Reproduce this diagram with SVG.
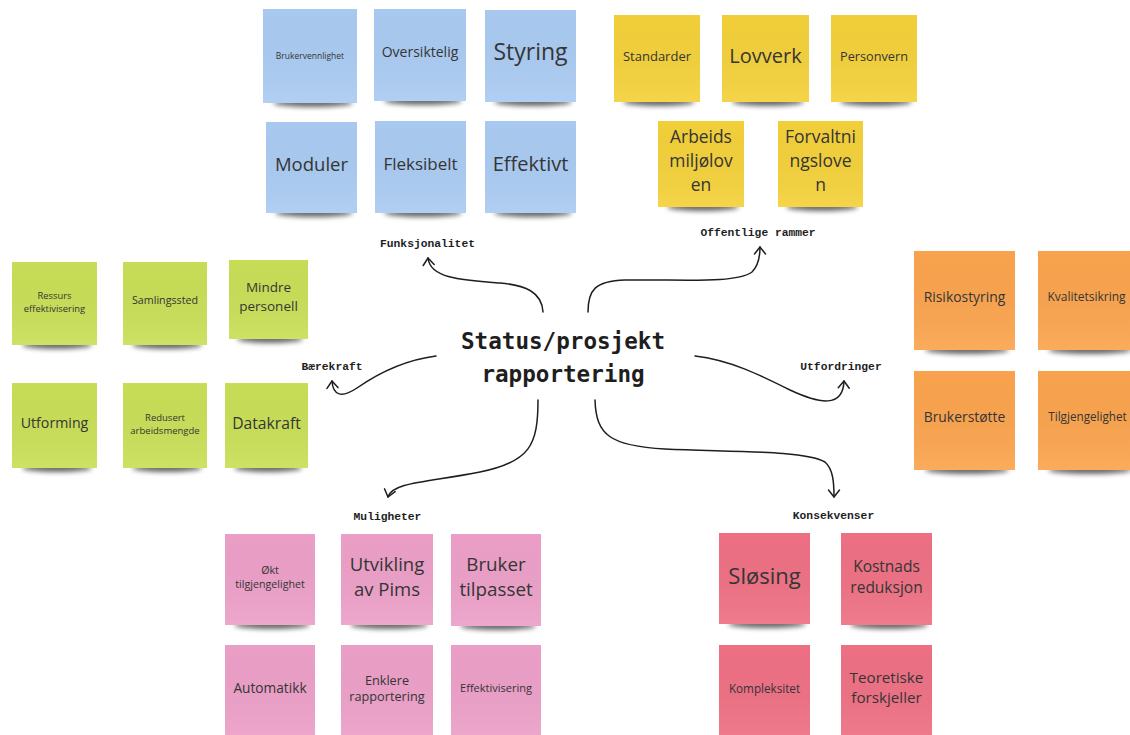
<svg xmlns="http://www.w3.org/2000/svg" width="1130" height="735" viewBox="0 0 1130 735">
  <defs>
    <filter id="blur" x="-20%" y="-200%" width="140%" height="500%">
      <feGaussianBlur stdDeviation="2.8"/>
    </filter>
    <linearGradient id="sheen" x1="0" y1="0" x2="0" y2="1">
      <stop offset="0" stop-color="#000" stop-opacity="0.01"/>
      <stop offset="1" stop-color="#fff" stop-opacity="0.08"/>
    </linearGradient>
    <marker id="chev" viewBox="-10 -8 12 16" markerWidth="12" markerHeight="16" refX="0" refY="0" orient="auto" markerUnits="userSpaceOnUse">
      <path d="M-7,-5.5 L0,0 L-7,5.5" fill="none" stroke="#1e1e1e" stroke-width="1.5" stroke-linecap="round" stroke-linejoin="round"/>
    </marker>
    <style>
      .shadow { fill: #000; opacity: 0.6; filter: url(#blur); }
      .sheen { fill: url(#sheen); }
      .blue { fill: #aacbf2; }
      .yellow { fill: #f4d13a; }
      .green { fill: #c9df57; }
      .orange { fill: #fba44e; }
      .pink { fill: #eda0c8; }
      .red { fill: #ef7084; }
      .t { font-family: "Open Sans", "Noto Sans", sans-serif; fill: #353535; text-anchor: middle; }
      .lbl { font-family: "Liberation Mono", "DejaVu Sans Mono", monospace; font-weight: bold; font-size: 11.3px; fill: #1e1e1e; text-anchor: middle; }
      .title { font-family: "DejaVu Sans Mono", "Liberation Mono", monospace; font-weight: bold; font-size: 22.6px; fill: #1e1e1e; text-anchor: middle; }
      .conn { fill: none; stroke: #1e1e1e; stroke-width: 1.5; stroke-linecap: round; marker-end: url(#chev); }
    </style>
  </defs>

  <rect width="1130" height="735" fill="#ffffff"/>

  <!-- Funksjonalitet (blue) -->
  <g id="note-brukervennlighet">
    <ellipse class="shadow" cx="313" cy="103" rx="40" ry="4"/>
    <rect class="blue" x="263" y="9" width="94" height="94"/><rect class="sheen" x="263" y="9" width="94" height="94"/>
    <text class="t" x="310" y="59" font-size="8.5">Brukervennlighet</text>
  </g>
  <g id="note-oversiktelig">
    <ellipse class="shadow" cx="423" cy="101" rx="39" ry="4"/>
    <rect class="blue" x="374" y="9" width="92" height="92"/><rect class="sheen" x="374" y="9" width="92" height="92"/>
    <text class="t" x="420" y="57" font-size="14">Oversiktelig</text>
  </g>
  <g id="note-styring">
    <ellipse class="shadow" cx="533" cy="102" rx="39" ry="4"/>
    <rect class="blue" x="485" y="10" width="91" height="92"/><rect class="sheen" x="485" y="10" width="91" height="92"/>
    <text class="t" x="530.5" y="60" font-size="23">Styring</text>
  </g>
  <g id="note-moduler">
    <ellipse class="shadow" cx="314" cy="213" rx="39" ry="4"/>
    <rect class="blue" x="266" y="122" width="91" height="91"/><rect class="sheen" x="266" y="122" width="91" height="91"/>
    <text class="t" x="311.5" y="170.5" font-size="18.5">Moduler</text>
  </g>
  <g id="note-fleksibelt">
    <ellipse class="shadow" cx="423" cy="213" rx="39" ry="4"/>
    <rect class="blue" x="375" y="121" width="91" height="92"/><rect class="sheen" x="375" y="121" width="91" height="92"/>
    <text class="t" x="420.5" y="170" font-size="17">Fleksibelt</text>
  </g>
  <g id="note-effektivt">
    <ellipse class="shadow" cx="533" cy="213" rx="39" ry="4"/>
    <rect class="blue" x="485" y="121" width="91" height="92"/><rect class="sheen" x="485" y="121" width="91" height="92"/>
    <text class="t" x="530.5" y="171" font-size="20">Effektivt</text>
  </g>

  <!-- Offentlige rammer (yellow) -->
  <g id="note-standarder">
    <ellipse class="shadow" cx="659" cy="102" rx="36" ry="4"/>
    <rect class="yellow" x="614" y="15" width="86" height="87"/><rect class="sheen" x="614" y="15" width="86" height="87"/>
    <text class="t" x="657" y="60.5" font-size="13">Standarder</text>
  </g>
  <g id="note-lovverk">
    <ellipse class="shadow" cx="768" cy="102" rx="36" ry="4"/>
    <rect class="yellow" x="722" y="15" width="87" height="87"/><rect class="sheen" x="722" y="15" width="87" height="87"/>
    <text class="t" x="765.5" y="63" font-size="20">Lovverk</text>
  </g>
  <g id="note-personvern">
    <ellipse class="shadow" cx="876" cy="102" rx="36" ry="4"/>
    <rect class="yellow" x="831" y="15" width="86" height="87"/><rect class="sheen" x="831" y="15" width="86" height="87"/>
    <text class="t" x="874" y="60.5" font-size="12.7">Personvern</text>
  </g>
  <g id="note-arbeidsmiljoloven">
    <ellipse class="shadow" cx="703" cy="207" rx="36" ry="4"/>
    <rect class="yellow" x="658" y="121" width="86" height="86"/><rect class="sheen" x="658" y="121" width="86" height="86"/>
    <text class="t" x="701" font-size="17.4"><tspan x="701" y="143">Arbeids</tspan><tspan x="701" y="167">miljølov</tspan><tspan x="701" y="191">en</tspan></text>
  </g>
  <g id="note-forvaltningsloven">
    <ellipse class="shadow" cx="822" cy="207" rx="36" ry="4"/>
    <rect class="yellow" x="778" y="121" width="85" height="86"/><rect class="sheen" x="778" y="121" width="85" height="86"/>
    <text class="t" x="820.5" font-size="17.5"><tspan x="820.5" y="143">Forvaltni</tspan><tspan x="820.5" y="167">ngslove</tspan><tspan x="820.5" y="191">n</tspan></text>
  </g>

  <!-- Bærekraft (green) -->
  <g id="note-ressurs">
    <ellipse class="shadow" cx="57" cy="345" rx="35" ry="4"/>
    <rect class="green" x="12" y="262" width="85" height="83"/><rect class="sheen" x="12" y="262" width="85" height="83"/>
    <text class="t" x="54.5" font-size="9.4"><tspan x="54.5" y="298.5">Ressurs</tspan><tspan x="54.5" y="311.5">effektivisering</tspan></text>
  </g>
  <g id="note-samlingssted">
    <ellipse class="shadow" cx="167" cy="345" rx="35" ry="4"/>
    <rect class="green" x="123" y="262" width="84" height="83"/><rect class="sheen" x="123" y="262" width="84" height="83"/>
    <text class="t" x="165" y="304" font-size="10.7">Samlingssted</text>
  </g>
  <g id="note-mindre-personell">
    <ellipse class="shadow" cx="270" cy="339" rx="33" ry="4"/>
    <rect class="green" x="229" y="260" width="79" height="79"/><rect class="sheen" x="229" y="260" width="79" height="79"/>
    <text class="t" x="268.5" font-size="13.5"><tspan x="268.5" y="291.5">Mindre</tspan><tspan x="268.5" y="311">personell</tspan></text>
  </g>
  <g id="note-utforming">
    <ellipse class="shadow" cx="57" cy="468" rx="35" ry="4"/>
    <rect class="green" x="12" y="383" width="85" height="85"/><rect class="sheen" x="12" y="383" width="85" height="85"/>
    <text class="t" x="54.5" y="427.5" font-size="14.2">Utforming</text>
  </g>
  <g id="note-redusert">
    <ellipse class="shadow" cx="167" cy="468" rx="35" ry="4"/>
    <rect class="green" x="123" y="383" width="84" height="85"/><rect class="sheen" x="123" y="383" width="84" height="85"/>
    <text class="t" x="165" font-size="9.5"><tspan x="165" y="420.5">Redusert</tspan><tspan x="165" y="433.5">arbeidsmengde</tspan></text>
  </g>
  <g id="note-datakraft">
    <ellipse class="shadow" cx="268" cy="468" rx="34" ry="4"/>
    <rect class="green" x="225" y="383" width="83" height="85"/><rect class="sheen" x="225" y="383" width="83" height="85"/>
    <text class="t" x="266.5" y="428.5" font-size="15.7">Datakraft</text>
  </g>

  <!-- Utfordringer (orange) -->
  <g id="note-risikostyring">
    <ellipse class="shadow" cx="967" cy="350" rx="42" ry="4"/>
    <rect class="orange" x="914" y="251" width="101" height="99"/><rect class="sheen" x="914" y="251" width="101" height="99"/>
    <text class="t" x="964.5" y="301.5" font-size="13.9">Risikostyring</text>
  </g>
  <g id="note-kvalitetsikring">
    <ellipse class="shadow" cx="1090" cy="350" rx="42" ry="4"/>
    <rect class="orange" x="1038" y="251" width="100" height="99"/><rect class="sheen" x="1038" y="251" width="100" height="99"/>
    <text class="t" x="1086.5" y="301" font-size="12">Kvalitetsikring</text>
  </g>
  <g id="note-brukerstotte">
    <ellipse class="shadow" cx="967" cy="470" rx="42" ry="4"/>
    <rect class="orange" x="914" y="371" width="101" height="99"/><rect class="sheen" x="914" y="371" width="101" height="99"/>
    <text class="t" x="964.5" y="421.5" font-size="13.9">Brukerstøtte</text>
  </g>
  <g id="note-tilgjengelighet">
    <ellipse class="shadow" cx="1090" cy="470" rx="42" ry="4"/>
    <rect class="orange" x="1038" y="371" width="100" height="99"/><rect class="sheen" x="1038" y="371" width="100" height="99"/>
    <text class="t" x="1087.5" y="421" font-size="11.7">Tilgjengelighet</text>
  </g>

  <!-- Muligheter (pink) -->
  <g id="note-okt-tilgjengelighet">
    <ellipse class="shadow" cx="272" cy="625" rx="38" ry="4"/>
    <rect class="pink" x="225" y="534" width="90" height="91"/><rect class="sheen" x="225" y="534" width="90" height="91"/>
    <text class="t" x="270" font-size="10.7"><tspan x="270" y="574">Økt</tspan><tspan x="270" y="588">tilgjengelighet</tspan></text>
  </g>
  <g id="note-utvikling">
    <ellipse class="shadow" cx="389" cy="625" rx="39" ry="4"/>
    <rect class="pink" x="341" y="534" width="92" height="91"/><rect class="sheen" x="341" y="534" width="92" height="91"/>
    <text class="t" x="387" font-size="18.5"><tspan x="387" y="571">Utvikling</tspan><tspan x="387" y="595.5">av Pims</tspan></text>
  </g>
  <g id="note-bruker-tilpasset">
    <ellipse class="shadow" cx="498" cy="626" rx="38" ry="4"/>
    <rect class="pink" x="451" y="534" width="90" height="92"/><rect class="sheen" x="451" y="534" width="90" height="92"/>
    <text class="t" x="496" font-size="18.8"><tspan x="496" y="571">Bruker</tspan><tspan x="496" y="595.5">tilpasset</tspan></text>
  </g>
  <g id="note-automatikk">
    <rect class="pink" x="225" y="645" width="90" height="95"/><rect class="sheen" x="225" y="645" width="90" height="95"/>
    <text class="t" x="270" y="693" font-size="13.7">Automatikk</text>
  </g>
  <g id="note-enklere">
    <rect class="pink" x="341" y="645" width="92" height="95"/><rect class="sheen" x="341" y="645" width="92" height="95"/>
    <text class="t" x="387" font-size="12.7"><tspan x="387" y="684.5">Enklere</tspan><tspan x="387" y="701">rapportering</tspan></text>
  </g>
  <g id="note-effektivisering">
    <rect class="pink" x="451" y="645" width="90" height="95"/><rect class="sheen" x="451" y="645" width="90" height="95"/>
    <text class="t" x="496" y="691.5" font-size="11">Effektivisering</text>
  </g>

  <!-- Konsekvenser (red) -->
  <g id="note-slosing">
    <ellipse class="shadow" cx="767" cy="624" rx="39" ry="4"/>
    <rect class="red" x="719" y="533" width="91" height="91"/><rect class="sheen" x="719" y="533" width="91" height="91"/>
    <text class="t" x="764.5" y="583.5" font-size="22">Sløsing</text>
  </g>
  <g id="note-kostnads">
    <ellipse class="shadow" cx="889" cy="625" rx="39" ry="4"/>
    <rect class="red" x="841" y="533" width="91" height="92"/><rect class="sheen" x="841" y="533" width="91" height="92"/>
    <text class="t" x="886.5" font-size="15.5"><tspan x="886.5" y="571.5">Kostnads</tspan><tspan x="886.5" y="593">reduksjon</tspan></text>
  </g>
  <g id="note-kompleksitet">
    <rect class="red" x="719" y="645" width="91" height="95"/><rect class="sheen" x="719" y="645" width="91" height="95"/>
    <text class="t" x="764.5" y="693" font-size="11.7">Kompleksitet</text>
  </g>
  <g id="note-teoretiske">
    <rect class="red" x="841" y="645" width="91" height="95"/><rect class="sheen" x="841" y="645" width="91" height="95"/>
    <text class="t" x="886.5" font-size="15.2"><tspan x="886.5" y="683">Teoretiske</tspan><tspan x="886.5" y="703">forskjeller</tspan></text>
  </g>

  <!-- Central topic -->
  <g id="node-center">
    <text class="title" x="563" y="349">Status/prosjekt</text>
    <text class="title" x="563" y="382">rapportering</text>
  </g>

  <!-- Branch labels -->
  <g id="node-funksjonalitet"><text class="lbl" x="427.5" y="247">Funksjonalitet</text></g>
  <g id="node-offentlige"><text class="lbl" x="758" y="236">Offentlige rammer</text></g>
  <g id="node-baerekraft"><text class="lbl" x="332" y="370">Bærekraft</text></g>
  <g id="node-utfordringer"><text class="lbl" x="841" y="370">Utfordringer</text></g>
  <g id="node-muligheter"><text class="lbl" x="387.5" y="520">Muligheter</text></g>
  <g id="node-konsekvenser"><text class="lbl" x="833.5" y="519">Konsekvenser</text></g>

  <!-- Hand-drawn style connectors -->
  <g id="connectors">
    <path class="conn" d="M543,312 C542,292 525,285 500,283 C460,280 430,278 428,258"/>
    <path class="conn" d="M588,312 C588,290 595,281 625,280 C680,279 735,284 752,272 C758,266 760,258 760,247"/>
    <path class="conn" d="M436,356 C405,360 380,372 357,388 C342,398 333,396 332,381"/>
    <path class="conn" d="M695,356 C730,360 760,375 790,390 C820,404 843,408 844,381"/>
    <path class="conn" d="M538,400 C538,445 530,462 480,472 C430,482 392,482 388,497"/>
    <path class="conn" d="M595,400 C596,435 610,446 665,449 C730,452 805,450 825,462 C833,469 834,482 834,497"/>
  </g>
</svg>
